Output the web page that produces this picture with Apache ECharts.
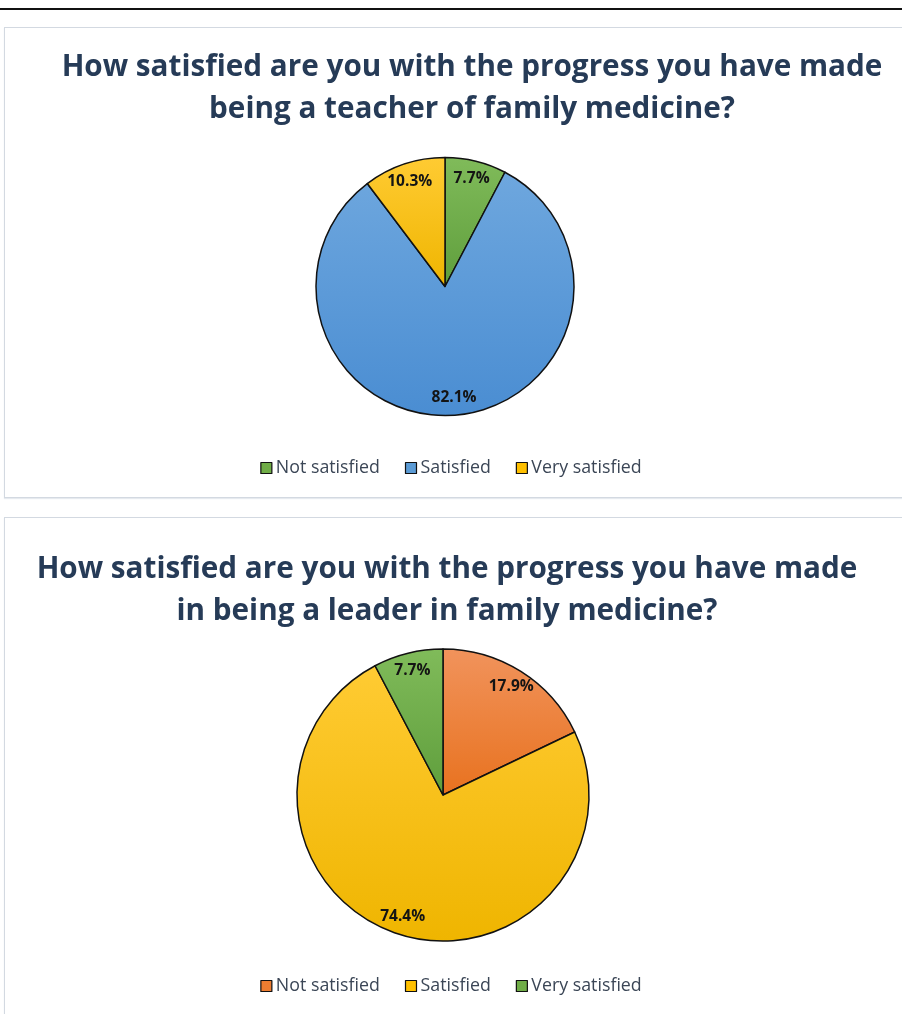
<!DOCTYPE html>
<html>
<head>
<meta charset="utf-8">
<script src="https://cdn.jsdelivr.net/npm/echarts@6/dist/echarts.min.js"></script>
<style>
html,body{margin:0;padding:0;background:#fff;width:902px;height:1014px;overflow:hidden;position:relative;}
#rule{position:absolute;left:0;top:8px;width:902px;height:2px;background:#111;}
.panel{position:absolute;left:4px;width:920px;border:1px solid #d3d9e1;box-shadow:0 1px 1px #e6eaef;}
#p1{top:27px;height:469px;}
#p2{top:517px;height:520px;}
.chart{position:absolute;left:0;width:902px;height:507px;}
#c1{top:0;}
#c2{top:507px;}
</style>
</head>
<body>
<div id="rule"></div>
<div class="panel" id="p1"></div>
<div class="panel" id="p2"></div>
<div class="chart" id="c1"></div>
<div class="chart" id="c2"></div>
<script>
// ---- data ----
const categories = ['Not satisfied', 'Satisfied', 'Very satisfied'];
const teacherValues = [7.7, 82.1, 10.3];
const leaderValues = [17.9, 74.4, 7.7];
const teacherTitle = 'How satisfied are you with the progress you have made\nbeing a teacher of family medicine?';
const leaderTitle = 'How satisfied are you with the progress you have made\nin being a leader in family medicine?';

// ---- styles ----
function grad(top, bottom){
  return new echarts.graphic.LinearGradient(0,0,0,1,[{offset:0,color:top},{offset:1,color:bottom}]);
}
const GREEN = ['#80bb5a','#5f9e3c'];
const BLUE = ['#6ea7de','#4a8dd2'];
const YELLOW = ['#ffcb33','#efb500'];
const ORANGE = ['#f1935c','#e8721f'];
const FLAT = {GREEN:'#70ad47',BLUE:'#5b9bd5',YELLOW:'#ffc000',ORANGE:'#ed7d31'};

function buildOption(title, values, cols, flatCols, geo){
  const data = categories.map((c,i)=>({name:c,value:values[i],itemStyle:{color:grad(cols[i][0],cols[i][1])}}));
  const labelData = categories.map((c,i)=>({name:c,value:values[i]}));
  return {
    animation:false,
    title:{
      text:title,
      left:geo.titleX, top:geo.titleTop, textAlign:'center',
      textStyle:{fontFamily:'Open Sans',fontWeight:'bold',fontSize:29.7,lineHeight:42,color:'#263b57'}
    },
    legend:{
      left:'center', top:geo.legendTop,
      itemWidth:11,itemHeight:11,itemGap:25,
      icon:'rect',
      data:categories.map((c,i)=>({name:c,itemStyle:{color:flatCols[i],borderColor:'#111',borderWidth:1.2}})),
      textStyle:{fontFamily:'Open Sans',fontSize:17.8,color:'#3b4656',padding:[0,0,0,-1]}
    },
    series:[
      {
        type:'pie', center:geo.center, radius:geo.r,
        startAngle:90, clockwise:true, legendHoverLink:false,
        data:data,
        itemStyle:{borderColor:'#111',borderWidth:1.5},
        label:{show:false}, labelLine:{show:false}, emphasis:{disabled:true}
      },
      {
        type:'pie', center:geo.center, radius:[geo.d-2, geo.d+2],
        startAngle:90, clockwise:true, silent:true,
        data:labelData,
        itemStyle:{color:'rgba(0,0,0,0)'},
        label:{show:true,position:'inside',formatter:p=>p.value.toFixed(1)+'%',
          fontFamily:'Open Sans',fontWeight:'bold',fontSize:15.5,color:'#141414'},
        labelLine:{show:false}, emphasis:{disabled:true}, tooltip:{show:false}
      }
    ]
  };
}

const c1 = echarts.init(document.getElementById('c1'));
c1.setOption(buildOption(teacherTitle, teacherValues,
  [GREEN,BLUE,YELLOW],[FLAT.GREEN,FLAT.BLUE,FLAT.YELLOW],
  {titleX:467,titleTop:42,legendTop:454,center:[445,286.5],r:129,d:108}));

const c2 = echarts.init(document.getElementById('c2'));
c2.setOption(buildOption(leaderTitle, leaderValues,
  [ORANGE,YELLOW,GREEN],[FLAT.ORANGE,FLAT.YELLOW,FLAT.GREEN],
  {titleX:442,titleTop:37,legendTop:465,center:[443,288],r:146,d:125}));
</script>
</body>
</html>
